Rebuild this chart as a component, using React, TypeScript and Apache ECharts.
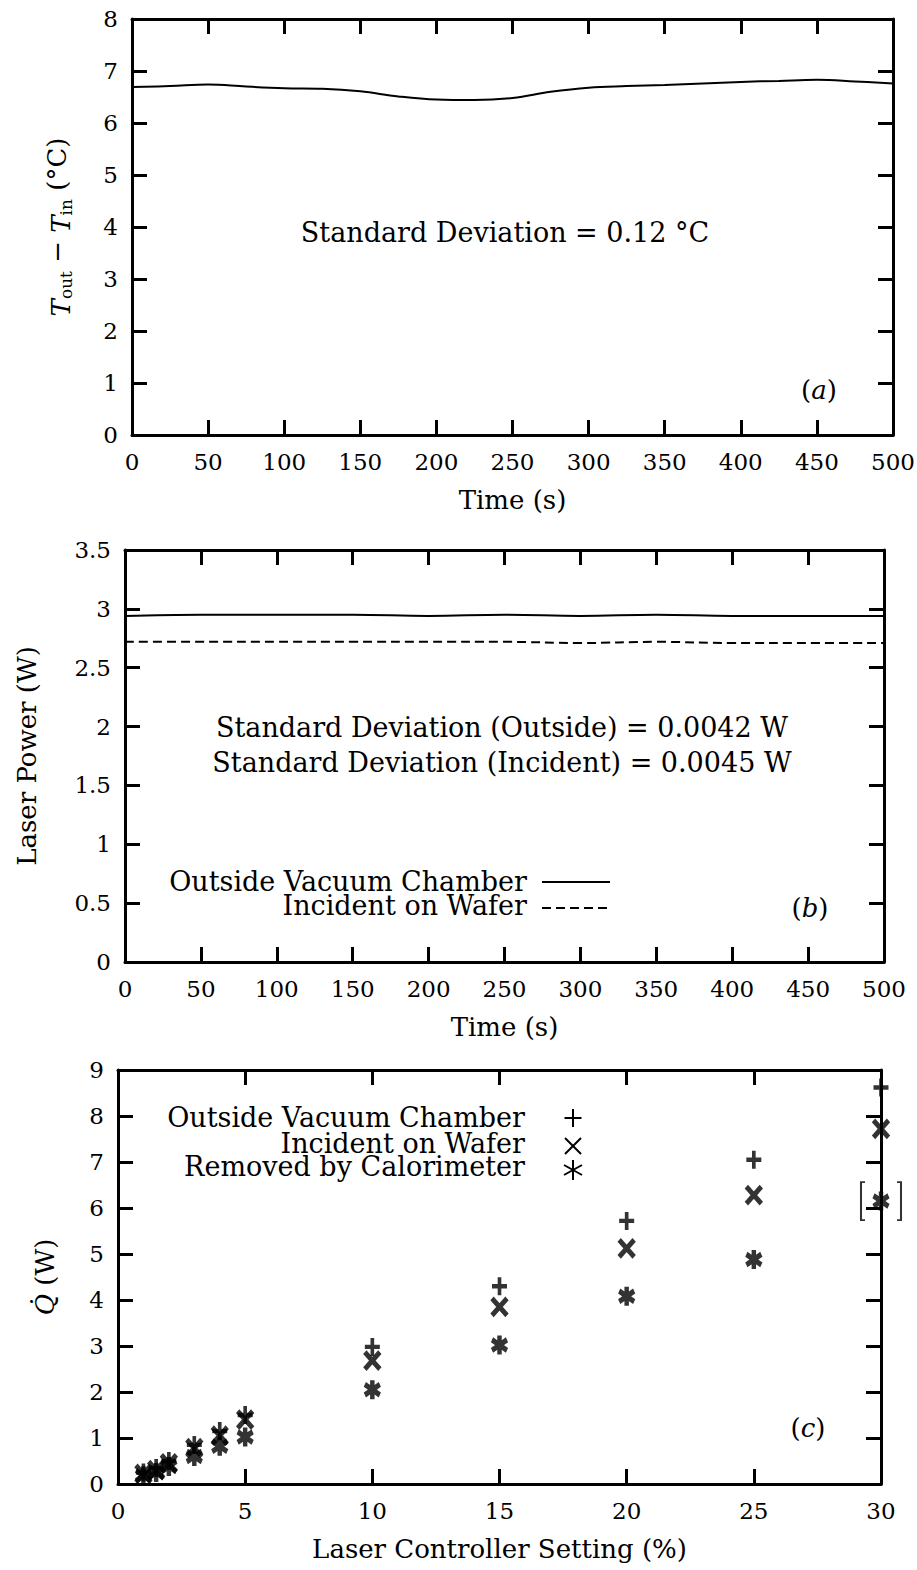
import React, { useEffect, useRef } from "react";
import * as echarts from "echarts";

// ---------- data ----------
const timeA = [0, 25, 50, 75, 100, 125, 150, 175, 200, 225, 250, 275, 300, 325, 350, 375, 400, 425, 450, 475, 500];
const deltaT = [6.69, 6.71, 6.74, 6.7, 6.67, 6.66, 6.61, 6.51, 6.45, 6.44, 6.48, 6.6, 6.68, 6.71, 6.73, 6.76, 6.79, 6.81, 6.83, 6.8, 6.76];

const timeB = [0, 50, 100, 150, 200, 250, 300, 350, 400, 450, 500];
const powerOutside = [2.94, 2.95, 2.95, 2.95, 2.94, 2.95, 2.94, 2.95, 2.94, 2.94, 2.94];
const powerIncident = [2.72, 2.72, 2.72, 2.72, 2.72, 2.72, 2.71, 2.72, 2.71, 2.71, 2.71];

const setting = [1, 1.5, 2, 3, 4, 5, 10, 15, 20, 25, 30];
const qOutside = [0.25, 0.35, 0.5, 0.85, 1.15, 1.5, 2.98, 4.3, 5.72, 7.05, 8.62];
const qIncident = [0.22, 0.3, 0.45, 0.78, 1.05, 1.4, 2.68, 3.85, 5.12, 6.28, 7.72];
const qRemoved = [0.18, 0.25, 0.38, 0.6, 0.82, 1.02, 2.05, 3.02, 4.08, 4.88, 6.15];
const bracketX = [30];
const bracketY = [6.15];

const SERIF = "DejaVu Serif";
const TICKFONT = "DejaVu Serif";

const PLUS = "path://M5,0L5,10M0,5L10,5";
const CROSS = "path://M0,0L10,10M0,10L10,0";
const STAR = "path://M5,0L5,10M0.5,2.2L9.5,7.8M0.5,7.8L9.5,2.2";
const BRACKET = "path://M4,0L0,0L0,10L4,10M36,0L40,0L40,10L36,10";

function makeX(gridIndex: number, min: number, max: number, interval: number, top: boolean, name?: string) {
  return {
    type: "value",
    gridIndex,
    position: top ? "top" : "bottom",
    min,
    max,
    interval,
    name: name || "",
    nameLocation: "middle",
    nameGap: 52,
    nameTextStyle: { fontFamily: SERIF, fontSize: 26, color: "#000" },
    axisLine: { show: true, onZero: false, lineStyle: { color: "#000", width: 3 } },
    axisTick: { show: true, inside: true, length: 15, lineStyle: { color: "#000", width: 3 } },
    axisLabel: { show: !top, fontFamily: TICKFONT, fontSize: 23, color: "#000", margin: 15 },
    splitLine: { show: false },
  };
}

function makeY(gridIndex: number, min: number, max: number, interval: number, right: boolean, name?: any, nameGap?: number, rich?: any) {
  return {
    type: "value",
    gridIndex,
    position: right ? "right" : "left",
    min,
    max,
    interval,
    name: name || "",
    nameLocation: "middle",
    nameRotate: 90,
    nameGap: nameGap || 60,
    nameTextStyle: { fontFamily: SERIF, fontSize: 26, color: "#000", rich: rich || {} },
    axisLine: { show: true, onZero: false, lineStyle: { color: "#000", width: 3 } },
    axisTick: { show: true, inside: true, length: 15, lineStyle: { color: "#000", width: 3 } },
    axisLabel: { show: !right, fontFamily: TICKFONT, fontSize: 23, color: "#000", margin: 14 },
    splitLine: { show: false },
  };
}

function ln(x1: number, y1: number, x2: number, y2: number, w = 2, dash?: number[]) {
  return {
    type: "line",
    shape: { x1, y1, x2, y2 },
    style: { stroke: "#000", lineWidth: w, lineDash: dash || null },
  };
}

function txt(text: string, x: number, y: number, align = "center", size = 26, rich?: any) {
  return {
    type: "text",
    x,
    y,
    style: {
      text,
      x: 0,
      y: 0,
      fill: "#000",
      fontFamily: SERIF,
      fontSize: size,
      lineHeight: size - 4,
      align,
      verticalAlign: "middle",
      rich: rich || undefined,
    },
  };
}

const panelRich = {
  n: { fontFamily: SERIF, fontSize: 26, color: "#000" },
  i: { fontFamily: SERIF, fontSize: 26, fontStyle: "italic", color: "#000" },
};

export default function App() {
  const ref = useRef<HTMLDivElement>(null);
  useEffect(() => {
    if (!ref.current) return;
    const chart = echarts.init(ref.current, null, { renderer: "svg" });
    const markerStyle = { color: "rgba(0,0,0,0)", borderColor: "#000", borderWidth: 4 };

    const legendC: any[] = [];
    const mx = 573;
    // plus
    legendC.push(ln(mx - 8.5, 1118, mx + 8.5, 1118), ln(mx, 1109, mx, 1127));
    // cross
    legendC.push(ln(mx - 8, 1138, mx + 8, 1154), ln(mx - 8, 1154, mx + 8, 1138));
    // star
    legendC.push(ln(mx, 1160, mx, 1180), ln(mx - 9, 1165, mx + 9, 1175), ln(mx - 9, 1175, mx + 9, 1165));

    const option: any = {
      animation: false,
      backgroundColor: "#fff",
      grid: [
        { left: 132, top: 19, width: 761, height: 416, outerBoundsMode: "none", containLabel: false },
        { left: 125, top: 550, width: 759, height: 412, outerBoundsMode: "none", containLabel: false },
        { left: 118, top: 1070, width: 763, height: 414, outerBoundsMode: "none", containLabel: false },
      ],
      xAxis: [
        makeX(0, 0, 500, 50, false, "Time (s)"),
        makeX(0, 0, 500, 50, true),
        makeX(1, 0, 500, 50, false, "Time (s)"),
        makeX(1, 0, 500, 50, true),
        makeX(2, 0, 30, 5, false, "Laser Controller Setting (%)"),
        makeX(2, 0, 30, 5, true),
      ],
      yAxis: [
        makeY(0, 0, 8, 1, false, "{i|T}{s|out} − {i|T}{s|in} (°C)", 58, {
          i: { fontFamily: SERIF, fontSize: 26, fontStyle: "italic", color: "#000", verticalAlign: "bottom", lineHeight: 34 },
          s: { fontFamily: SERIF, fontSize: 17, color: "#000", verticalAlign: "bottom", lineHeight: 28 },
        }),
        makeY(0, 0, 8, 1, true),
        makeY(1, 0, 3.5, 0.5, false, "Laser Power (W)", 85),
        makeY(1, 0, 3.5, 0.5, true),
        makeY(2, 0, 9, 1, false, "{i|Q\u0307} (W)", 60, {
          i: { fontFamily: SERIF, fontSize: 26, fontStyle: "italic", color: "#000" },
        }),
        makeY(2, 0, 9, 1, true),
      ],
      series: [
        {
          type: "line",
          xAxisIndex: 0,
          yAxisIndex: 0,
          data: timeA.map((t, i) => [t, deltaT[i]]),
          smooth: 0.4,
          symbol: "none",
          lineStyle: { color: "#000", width: 2 },
        },
        {
          type: "line",
          name: "Outside Vacuum Chamber",
          xAxisIndex: 2,
          yAxisIndex: 2,
          data: timeB.map((t, i) => [t, powerOutside[i]]),
          smooth: 0.4,
          symbol: "none",
          lineStyle: { color: "#000", width: 2 },
        },
        {
          type: "line",
          name: "Incident on Wafer",
          xAxisIndex: 2,
          yAxisIndex: 2,
          data: timeB.map((t, i) => [t, powerIncident[i]]),
          smooth: 0.4,
          symbol: "none",
          lineStyle: { color: "#000", width: 2, type: [9, 5] },
        },
        {
          type: "scatter",
          name: "Outside Vacuum Chamber",
          xAxisIndex: 4,
          yAxisIndex: 4,
          clip: false,
          data: setting.map((s, i) => [s, qOutside[i]]),
          symbol: PLUS,
          symbolSize: [15, 18],
          itemStyle: { ...markerStyle, borderWidth: 4 },
        },
        {
          type: "scatter",
          name: "Incident on Wafer",
          xAxisIndex: 4,
          yAxisIndex: 4,
          clip: false,
          data: setting.map((s, i) => [s, qIncident[i]]),
          symbol: CROSS,
          symbolSize: [15, 17],
          itemStyle: { ...markerStyle, borderWidth: 5 },
        },
        {
          type: "scatter",
          name: "Removed by Calorimeter",
          xAxisIndex: 4,
          yAxisIndex: 4,
          clip: false,
          data: setting.map((s, i) => [s, qRemoved[i]]),
          symbol: STAR,
          symbolSize: [15, 19],
          itemStyle: { ...markerStyle, borderWidth: 5 },
        },
        {
          type: "scatter",
          xAxisIndex: 4,
          yAxisIndex: 4,
          clip: false,
          data: bracketX.map((x, i) => [x, bracketY[i]]),
          symbol: BRACKET,
          symbolSize: [40, 38],
          itemStyle: { color: "rgba(0,0,0,0)", borderColor: "#000", borderWidth: 2 },
        },
      ],
      graphic: [
        txt("Standard Deviation = 0.12 °C", 505, 232, "center", 27),
        txt("{n|(}{i|a}{n|)}", 819, 390, "center", 26, panelRich),
        txt("Standard Deviation (Outside) = 0.0042 W", 502, 727, "center", 27),
        txt("Standard Deviation (Incident) = 0.0045 W", 502, 762, "center", 27),
        txt("Outside Vacuum Chamber", 527, 881, "right", 27),
        txt("Incident on Wafer", 527, 905, "right", 27),
        ln(542, 882, 610, 882, 2),
        ln(542, 908, 610, 908, 2, [9, 5]),
        txt("{n|(}{i|b}{n|)}", 810, 908, "center", 26, panelRich),
        txt("Outside Vacuum Chamber", 525, 1117, "right", 27),
        txt("Incident on Wafer", 525, 1143, "right", 27),
        txt("Removed by Calorimeter", 525, 1166, "right", 27),
        ...legendC,
        txt("{n|(}{i|c}{n|)}", 808, 1428, "center", 26, panelRich),
      ],
    };
    chart.setOption(option);
    return () => chart.dispose();
  }, []);
  return (
    <div
      ref={ref}
      style={{ position: "absolute", left: 0, top: 0, width: 917, height: 1570, background: "#fff" }}
    />
  );
}
